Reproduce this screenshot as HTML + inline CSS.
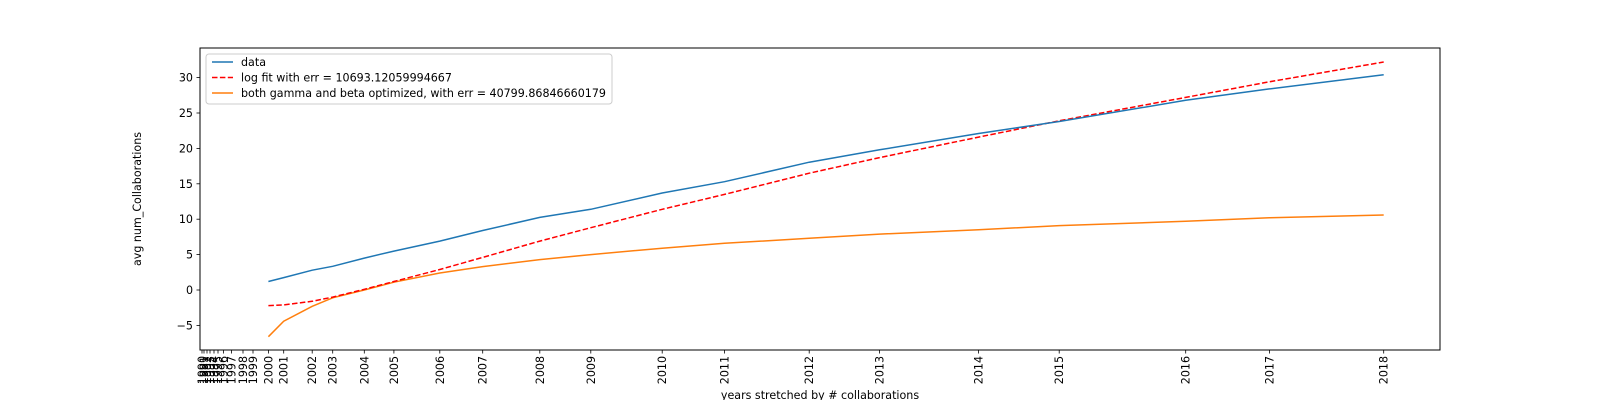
<!DOCTYPE html>
<html><head><meta charset="utf-8"><style>
html,body{margin:0;padding:0;background:#fff;}
svg{display:block;font-family:"DejaVu Sans","Liberation Sans",sans-serif;}
</style></head><body>
<svg id="chart" width="1600" height="400" xmlns="http://www.w3.org/2000/svg">
<rect x="0" y="0" width="1600" height="400" fill="#fff"/>
<g id="plot"></g>
</svg>
<script>
const years = [1990,1991,1992,1993,1994,1995,1996,1997,1998,1999,2000,2001,2002,2003,2004,2005,2006,2007,2008,2009,2010,2011,2012,2013,2014,2015,2016,2017,2018];
const stretched = [2,4,7,10,14,18,23.5,31.6,43,53,68.4,83.7,112.2,132.7,164.3,193.9,239.8,282.7,339.8,390.8,462.2,524.5,609.2,679.6,778.6,859.2,985.7,1069.4,1183.7];
const dataYears = [2000,2001,2002,2003,2004,2005,2006,2007,2008,2009,2010,2011,2012,2013,2014,2015,2016,2017,2018];
const dataValues = [1.2,1.75,2.8,3.35,4.5,5.5,6.9,8.4,10.25,11.4,13.7,15.3,18.05,19.8,22.1,23.8,26.8,28.4,30.4];
const logFitValues = [-2.2,-2.1,-1.6,-1.0,0.1,1.2,2.9,4.6,6.9,8.8,11.4,13.5,16.5,18.7,21.6,23.9,27.2,29.4,32.2];
const gammaBetaValues = [-6.6,-4.4,-2.3,-1.1,0.0,1.1,2.4,3.3,4.3,5.0,5.9,6.6,7.3,7.9,8.5,9.1,9.7,10.2,10.6];
const yTicks = [-5,0,5,10,15,20,25,30];

const L=200,R=1440,T=48,B=350;
const FS=11.1;
const NS="http://www.w3.org/2000/svg";
const g=document.getElementById('plot');
function xs(year){const i=years.indexOf(year);return L+stretched[i];}
function ys(v){return 290-7.08*v;}
function el(tag,attrs,parent){const e=document.createElementNS(NS,tag);for(const k in attrs)e.setAttribute(k,attrs[k]);(parent||g).appendChild(e);return e;}

function series(vals,color,dash,name){
  const d=dataYears.map((yr,i)=>(i?'L':'M')+xs(yr).toFixed(1)+','+ys(vals[i]).toFixed(1)).join(' ');
  const p=el('path',{d:d,fill:'none',stroke:color,'stroke-width':1.5});
  if(dash)p.setAttribute('stroke-dasharray','5.5,2.4');
  
  
}
series(gammaBetaValues,'#ff7f0e',null,'gamma-beta-line');
series(logFitValues,'#ff0000',true,'log-fit-line');
series(dataValues,'#1f77b4',null,'data-line');

const frame=el('rect',{x:L,y:T,width:R-L,height:B-T,fill:'none',stroke:'#000','stroke-width':1});



yTicks.forEach(v=>{
  const y=ys(v);
  const t=el('line',{x1:L-3.5,x2:L,y1:y,y2:y,stroke:'#000','stroke-width':0.8});
  
  
  const tx=el('text',{x:L-7,y:y+4,'text-anchor':'end','font-size':FS,fill:'#000'});
  tx.textContent=(v<0?'\u2212'+(-v):String(v));
  
  
});
years.forEach(yr=>{
  const x=xs(yr);
  const t=el('line',{x1:x,x2:x,y1:B,y2:B+3.5,stroke:'#000','stroke-width':0.8});
  
  
  const tx=el('text',{x:0,y:0,'text-anchor':'end','font-size':FS,fill:'#000',transform:`translate(${x+4},${B+6}) rotate(-90)`});
  tx.textContent=String(yr);
  
  
});

const xl=el('text',{x:(L+R)/2,y:399,'text-anchor':'middle','font-size':FS,fill:'#000'});
xl.textContent='years stretched by # collaborations';


const yl=el('text',{x:0,y:0,'text-anchor':'middle','font-size':FS,fill:'#000',transform:`translate(141,${(T+B)/2}) rotate(-90)`});
yl.textContent='avg num_Collaborations';



const leg=el('g',{});


el('rect',{x:206,y:54,width:406,height:50,rx:3,fill:'#fff','fill-opacity':0.8,stroke:'#ccc','stroke-width':1},leg);
const entries=[['data','#1f77b4',null],['log fit with err = 10693.12059994667','#ff0000','5.5,2.4'],['both gamma and beta optimized, with err = 40799.86846660179','#ff7f0e',null]];
entries.forEach((e,i)=>{
  const y=62+i*15.5;
  const ln=el('line',{x1:212,x2:233,y1:y,y2:y,stroke:e[1],'stroke-width':1.5},leg);
  if(e[2])ln.setAttribute('stroke-dasharray',e[2]);
  
  
  const tx=el('text',{x:241,y:y+4,'font-size':FS,fill:'#000'},leg);
  tx.textContent=e[0];
  
  
});
</script>
</body></html>
